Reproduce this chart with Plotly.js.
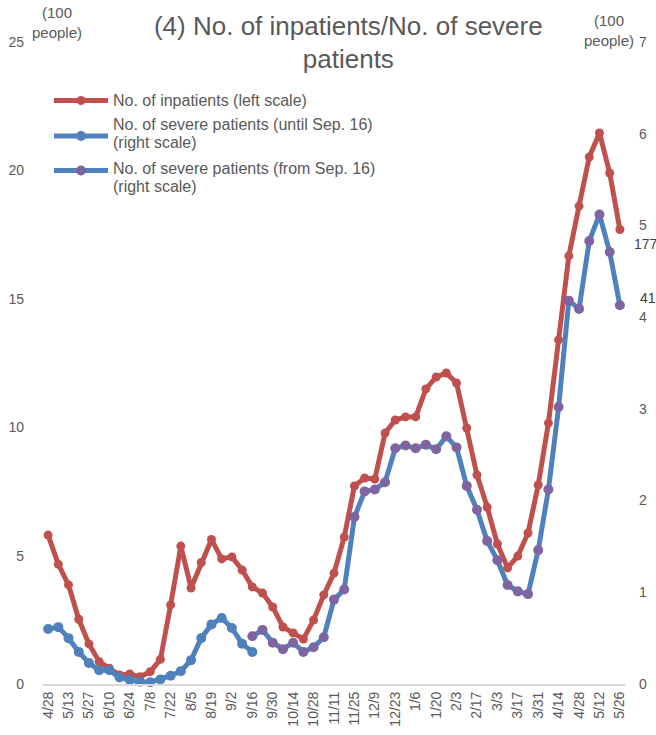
<!DOCTYPE html>
<html>
<head>
<meta charset="utf-8">
<script src="https://cdn.plot.ly/plotly-3.0.1.min.js"></script>
<style>
  html, body { margin: 0; padding: 0; background: #fff; }
  #chart { width: 656px; height: 735px; }
</style>
</head>
<body>
<div id="chart"></div>
<script>
// Week labels shown on the x axis (every second week)
const tickLabels = ['4/28','5/13','5/27','6/10','6/24','7/8','7/22','8/5','8/19','9/2','9/16','9/30',
  '10/14','10/28','11/11','11/25','12/9','12/23','1/6','1/20','2/3','2/17','3/3','3/17','3/31',
  '4/14','4/28','5/12','5/26'];

// No. of inpatients, hundreds of people (left scale), weekly
const inpatients = [5.80,4.66,3.86,2.52,1.56,0.87,0.61,0.35,0.39,0.28,
  0.48,0.96,3.08,5.37,3.74,4.73,5.63,4.87,4.95,4.44,
  3.78,3.54,3.00,2.22,1.99,1.75,2.49,3.47,4.32,5.72,
  7.71,8.02,7.98,9.77,10.28,10.40,10.40,11.49,11.95,12.11,
  11.72,9.97,8.14,6.89,5.45,4.52,4.98,5.88,7.75,10.16,
  13.40,16.67,18.61,20.52,21.46,19.90,17.70];

// No. of severe patients until Sep. 16, hundreds of people (right scale)
const severeUntil = [0.60,0.62,0.50,0.35,0.23,0.15,0.15,0.07,0.045,0.025,
  0.02,0.05,0.09,0.14,0.26,0.50,0.65,0.72,0.61,0.44,0.35];

// No. of severe patients from Sep. 16, hundreds of people (right scale)
const severeFrom = [0.52,0.59,0.45,0.38,0.45,0.35,0.40,0.51,0.92,1.03,
  1.82,2.10,2.12,2.20,2.57,2.60,2.57,2.61,2.56,2.70,
  2.58,2.16,1.90,1.56,1.35,1.08,1.01,0.98,1.46,2.12,
  3.02,4.18,4.09,4.83,5.12,4.71,4.13];

const seriesNames = [
  ['No. of inpatients (left scale)'],
  ['No. of severe patients (until Sep. 16)', '(right scale)'],
  ['No. of severe patients (from Sep. 16)', '(right scale)']
];

// week index of each point; the new definition starts on 9/16
const weeks = inpatients.map((_, i) => i);
const fromStart = tickLabels.indexOf('9/16') * 2;
const weeksUntil = severeUntil.map((_, i) => i);
const weeksFrom = severeFrom.map((_, i) => i + fromStart);

const RED = '#c0504d', BLUE = '#4f81bd', PURPLE = '#8064a2', TEXT = '#595959';
const FONT = 'Liberation Sans, Arial, sans-serif';

// plot area in pixels, for placing the hand-drawn legend
const PL = 43, PR = 625, PT = 42, PB = 684;
const px = x => (x - PL) / (PR - PL);
const py = y => (PB - y) / (PB - PT);

const traces = [
  { x: weeks, y: inpatients, yaxis: 'y', name: seriesNames[0].join(' '), type: 'scatter', mode: 'lines+markers',
    line: { color: RED, width: 5 }, marker: { color: RED, size: 9 }, cliponaxis: false },
  { x: weeksUntil, y: severeUntil, yaxis: 'y2', name: seriesNames[1].join(' '), type: 'scatter', mode: 'lines+markers',
    line: { color: BLUE, width: 5 }, marker: { color: BLUE, size: 10 }, cliponaxis: false },
  { x: weeksFrom, y: severeFrom, yaxis: 'y2', name: seriesNames[2].join(' '), type: 'scatter', mode: 'lines+markers',
    line: { color: BLUE, width: 5 }, marker: { color: PURPLE, size: 10 }, cliponaxis: false }
];

// legend drawn by hand: long line keys with a marker in the middle
const legendRows = [
  { sym: 100.5, lines: [100], line: RED, mark: RED, r: 4.5 },
  { sym: 136, lines: [125, 143], line: BLUE, mark: BLUE, r: 5 },
  { sym: 170.5, lines: [169, 187], line: BLUE, mark: PURPLE, r: 5 }
];
const shapes = [];
const annotations = [];
legendRows.forEach((row, k) => {
  shapes.push({ type: 'line', xref: 'paper', yref: 'paper', x0: px(54), x1: px(108), y0: py(row.sym), y1: py(row.sym),
    line: { color: row.line, width: 5 } });
  shapes.push({ type: 'circle', xref: 'paper', yref: 'paper', x0: px(81 - row.r), x1: px(81 + row.r),
    y0: py(row.sym + row.r), y1: py(row.sym - row.r), fillcolor: row.mark, line: { width: 0 } });
  seriesNames[k].forEach((txt, j) => {
    annotations.push({ xref: 'paper', yref: 'paper', x: px(111), y: py(row.lines[j]), xanchor: 'left', yanchor: 'middle',
      text: txt, showarrow: false, font: { family: FONT, size: 16, color: TEXT } });
  });
});

// axis unit captions
annotations.push({ xref: 'paper', yref: 'paper', x: px(57), y: py(23), xanchor: 'center', yanchor: 'middle',
  text: '(100<br>people)', showarrow: false, font: { family: FONT, size: 15, color: TEXT } });
annotations.push({ xref: 'paper', yref: 'paper', x: px(609), y: py(30), xanchor: 'center', yanchor: 'middle',
  text: '(100<br>people)', showarrow: false, font: { family: FONT, size: 15, color: TEXT } });

// value labels at the latest week
const last = inpatients.length - 1;
annotations.push({ xref: 'x', yref: 'y', x: weeks[last], y: inpatients[last], xanchor: 'left', yanchor: 'middle',
  xshift: 12, yshift: -15, text: String(Math.round(inpatients[last] * 100)), showarrow: false,
  font: { family: FONT, size: 14, color: '#404040' } });
annotations.push({ xref: 'x', yref: 'y2', x: weeksFrom[weeksFrom.length - 1], y: severeFrom[severeFrom.length - 1],
  xanchor: 'left', yanchor: 'middle', xshift: 18, yshift: 7,
  text: String(Math.round(severeFrom[severeFrom.length - 1] * 100)), showarrow: false,
  font: { family: FONT, size: 14, color: '#404040' } });

const layout = {
  width: 656, height: 735,
  margin: { l: PL, r: 656 - PR, t: PT, b: 735 - PB, pad: 0 },
  paper_bgcolor: '#ffffff', plot_bgcolor: '#ffffff',
  font: { family: FONT, size: 14, color: TEXT },
  showlegend: false,
  title: { text: '(4) No. of inpatients/No. of severe<br>patients', x: 0.531, xanchor: 'center',
    xref: 'container', y: 0.953, yanchor: 'top', yref: 'container',
    font: { family: FONT, size: 26, color: TEXT } },
  xaxis: {
    range: [-0.5, inpatients.length - 0.5], showgrid: false, zeroline: false,
    showline: true, linecolor: '#d9d9d9', linewidth: 2,
    tickmode: 'array', tickvals: tickLabels.map((_, i) => i * 2), ticktext: tickLabels,
    tickangle: -90, ticks: '', tickfont: { family: FONT, size: 14, color: TEXT }
  },
  yaxis: {
    range: [0, 25], dtick: 5, showgrid: false, zeroline: false, showline: false,
    ticks: '', ticklabelstandoff: 18, tickfont: { family: FONT, size: 14, color: TEXT }
  },
  yaxis2: {
    range: [0, 7], dtick: 1, overlaying: 'y', side: 'right', showgrid: false, zeroline: false, showline: false,
    ticks: '', ticklabelstandoff: 13, tickfont: { family: FONT, size: 14, color: TEXT }
  },
  shapes: shapes,
  annotations: annotations
};

Plotly.newPlot('chart', traces, layout, { staticPlot: true, displayModeBar: false });
</script>
</body>
</html>
